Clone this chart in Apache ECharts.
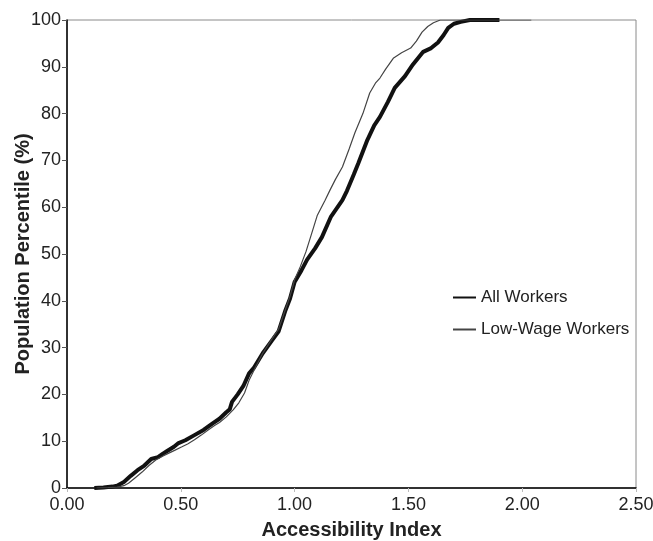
<!DOCTYPE html>
<html><head><meta charset="utf-8">
<script src="https://cdn.jsdelivr.net/npm/echarts@6/dist/echarts.min.js"></script>
<style>html,body{margin:0;padding:0;background:#fff}#c{width:653px;height:541px}</style>
</head><body><div id="c"></div>
<script>
const seriesNames = ['All Workers', 'Low-Wage Workers'];
const xTicks = [0, 0.5, 1.0, 1.5, 2.0, 2.5];
const allWorkersX = [0.12,0.16,0.20,0.22,0.25,0.28,0.31,0.34,0.37,0.40,0.42,0.44,0.47,0.49,0.52,0.56,0.60,0.64,0.67,0.70,0.715,0.725,0.75,0.775,0.80,0.82,0.86,0.90,0.93,0.96,0.98,1.00,1.03,1.055,1.09,1.12,1.16,1.21,1.23,1.26,1.28,1.32,1.35,1.375,1.41,1.44,1.485,1.52,1.565,1.60,1.63,1.655,1.675,1.70,1.73,1.77,1.90];
const allWorkersY = [0,0.1,0.3,0.5,1.3,2.6,3.8,4.8,6.2,6.6,7.3,7.9,8.8,9.6,10.2,11.3,12.4,13.8,14.8,16.2,16.8,18.4,20.0,21.8,24.5,25.6,28.8,31.5,33.5,38,40.5,44,46.5,48.8,51.2,53.6,58,61.5,63.5,67,69.4,74.4,77.5,79.3,82.5,85.5,88,90.5,93.2,94,95.2,96.8,98.3,99.2,99.6,100,100];
const lowWageX = [0.13,0.18,0.22,0.25,0.27,0.30,0.33,0.36,0.39,0.42,0.445,0.475,0.505,0.53,0.56,0.59,0.62,0.65,0.67,0.70,0.73,0.755,0.78,0.80,0.826,0.86,0.90,0.93,0.96,0.98,1.00,1.025,1.05,1.07,1.10,1.134,1.156,1.18,1.21,1.24,1.265,1.30,1.33,1.355,1.375,1.40,1.435,1.47,1.51,1.535,1.56,1.585,1.61,1.64,2.04];
const lowWageY = [0,0.1,0.2,0.5,1,2.2,3.4,4.8,6,6.8,7.4,8.1,8.8,9.4,10.3,11.3,12.4,13.4,14,15.2,16.7,18.2,20.3,23,25.6,28.8,31.8,34,38.2,41,44.5,47.3,50.5,53.6,58.3,61.5,63.7,66,68.6,72.5,75.9,80,84.4,86.5,87.6,89.5,91.9,93,94,95.5,97.4,98.6,99.4,100,100];

const zip = (xs, ys) => xs.map((x, i) => [x, ys[i]]);
const font = 'Liberation Sans, Arial, sans-serif';
const chart = echarts.init(document.getElementById('c'), null, {renderer: 'canvas'});
chart.setOption({
  animation: false,
  backgroundColor: '#fff',
  grid: {left: 67, right: 17, top: 20, bottom: 53, show: true, borderColor: '#8a8a8a', borderWidth: 1,
         containLabel: false, outerBoundsMode: 'none'},
  legend: {
    orient: 'vertical', left: 447, top: 284, itemWidth: 23, itemHeight: 14, itemGap: 15,
    textStyle: {fontFamily: font, fontSize: 17, color: '#222'},
    itemStyle: {opacity: 0},
    data: seriesNames
  },
  xAxis: {
    type: 'value', min: 0, max: 2.5, interval: 0.5,
    name: 'Accessibility Index', nameLocation: 'middle', nameGap: 32, nameMoveOverlap: false,
    nameTextStyle: {fontFamily: font, fontSize: 20, fontWeight: 'bold', color: '#222'},
    axisLine: {show: true, lineStyle: {color: '#000', width: 1.5}},
    axisTick: {show: true, length: 4, lineStyle: {color: '#bbb'}},
    splitLine: {show: false},
    axisLabel: {fontFamily: font, fontSize: 18, color: '#222', margin: 8, formatter: v => v.toFixed(2)}
  },
  yAxis: {
    type: 'value', min: 0, max: 100, interval: 10,
    name: 'Population Percentile (%)', nameLocation: 'middle', nameGap: 34, nameMoveOverlap: false,
    nameTextStyle: {fontFamily: font, fontSize: 20, fontWeight: 'bold', color: '#222'},
    axisLine: {show: true, lineStyle: {color: '#000', width: 1.5}},
    axisTick: {show: true, length: 5, lineStyle: {color: '#555'}},
    splitLine: {show: false},
    axisLabel: {fontFamily: font, fontSize: 18, color: '#222', margin: 6}
  },
  series: [
    {name: seriesNames[0], type: 'line', data: zip(allWorkersX, allWorkersY), symbol: 'none',
     lineStyle: {color: '#111', width: 4}, itemStyle: {color: '#111'}, z: 3},
    {name: seriesNames[1], type: 'line', data: zip(lowWageX, lowWageY), symbol: 'none',
     lineStyle: {color: '#444', width: 1.2}, itemStyle: {color: '#444'}, z: 4}
  ]
});
</script></body></html>
